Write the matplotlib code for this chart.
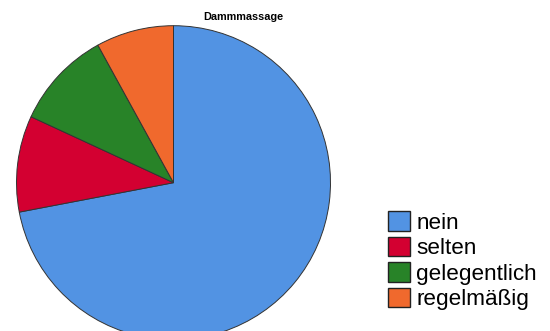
import matplotlib
matplotlib.use("Agg")
import matplotlib.pyplot as plt
from matplotlib.patches import Patch

plt.rcParams['font.family'] = ['Liberation Sans', 'DejaVu Sans']

# data
labels = ['nein', 'selten', 'gelegentlich', 'regelmäßig']
shares = [72.0, 9.9, 10.1, 8.0]
colors = ['#5293E3', '#D30031', '#288328', '#F0692D']
title = 'Dammmassage'

W, H = 550, 331
fig = plt.figure(figsize=(W / 100, H / 100), dpi=100)

# pie centre (173.5, 182.7) px, radius 157 px
cx, cy, r = 173.5, 182.7, 157.0
ax = fig.add_axes([(cx - r) / W, (H - cy - r) / H, 2 * r / W, 2 * r / H])
wedges, _ = ax.pie(shares, colors=colors, startangle=90, counterclock=False,
                   wedgeprops=dict(edgecolor='#333333', linewidth=0.7))
for w in wedges:
    w.set_clip_on(False)
ax.set_xlim(-1, 1)
ax.set_ylim(-1, 1)

fig.text(243.5 / W, 1 - 17 / H, title, ha='center', va='center',
         fontsize=7.8, fontweight='bold')

handles = [Patch(facecolor=c, edgecolor='#222222', linewidth=1.0) for c in colors]
fig.legend(handles, labels, loc='upper left', bbox_to_anchor=(387.5 / W, 1 - 211.5 / H),
           frameon=False, fontsize=16.2, handlelength=1.0, handleheight=0.93,
           handletextpad=0.27, labelspacing=0.14, borderpad=0, borderaxespad=0)

fig.savefig('out.png', dpi=100)
